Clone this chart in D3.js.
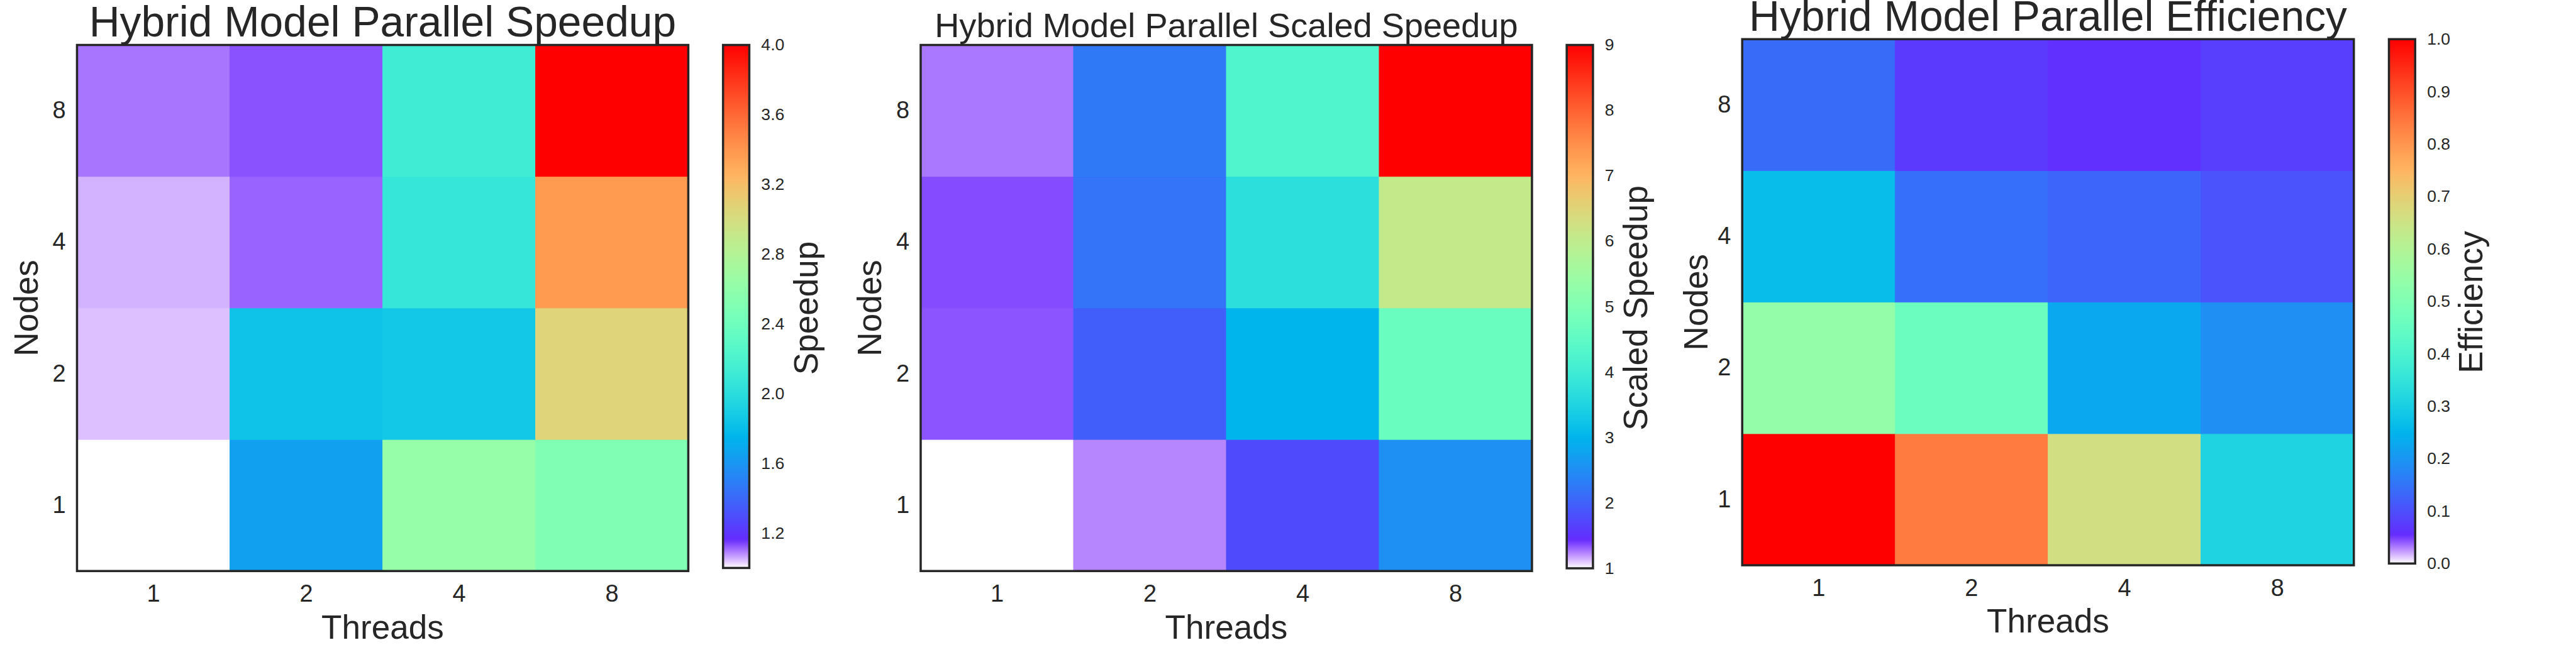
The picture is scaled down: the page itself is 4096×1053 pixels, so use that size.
<!DOCTYPE html>
<html>
<head>
<meta charset="utf-8">
<script src="https://cdn.jsdelivr.net/npm/d3@7"></script>
<style>
  html, body { margin: 0; padding: 0; background: #ffffff; overflow: hidden; }
  svg { display: block; }
</style>
</head>
<body>
<svg id="chart"></svg>
<script>
// ---------------- DATA ----------------
const threads = ["1", "2", "4", "8"];
const nodes = ["1", "2", "4", "8"];

// rows = nodes 1, 2, 4, 8 ; columns = threads 1, 2, 4, 8
const speedup = [
  [1.00, 1.65, 2.63, 2.50],
  [1.043, 1.83, 1.86, 3.06],
  [1.053, 1.115, 2.07, 3.38],
  [1.10, 1.13, 2.125, 4.00]
];
const scaledSpeedup = [
  [1.00, 1.23, 1.76, 2.53],
  [1.34, 1.96, 3.00, 4.66],
  [1.36, 2.20, 3.69, 6.07],
  [1.26, 2.26, 4.26, 9.00]
];
const efficiency = [
  [1.00, 0.84, 0.66, 0.31],
  [0.54, 0.46, 0.23, 0.19],
  [0.265, 0.144, 0.13, 0.105],
  [0.138, 0.072, 0.06, 0.078]
];

const speedupTicks = [1.2, 1.6, 2.0, 2.4, 2.8, 3.2, 3.6, 4.0];
const scaledSpeedupTicks = [1, 2, 3, 4, 5, 6, 7, 8, 9];
const efficiencyTicks = [0.0, 0.1, 0.2, 0.3, 0.4, 0.5, 0.6, 0.7, 0.8, 0.9, 1.0];

const titles = ["Hybrid Model Parallel Speedup", "Hybrid Model Parallel Scaled Speedup", "Hybrid Model Parallel Efficiency"];
const colorbarLabels = ["Speedup", "Scaled Speedup", "Efficiency"];
const xLabel = "Threads";
const yLabel = "Nodes";

// ---------------- LAYOUT (reference pixel units) ----------------
const W = 7560, H = 1943;
const INK = "#262626";
const FONT = "'Liberation Sans', Arial, Helvetica, sans-serif";

const panels = [
  { data: speedup, domain: [1, 4], ticks: speedupTicks, fmt: d3.format(".1f"),
    x0: 226, x1: 2020, y0: 132, y1: 1676, cbx0: 2122, cbx1: 2199, cby1: 1667,
    titleSize: 125, titleY: 107, nodesX: 111, cbLabelX: 2399 },
  { data: scaledSpeedup, domain: [1, 9], ticks: scaledSpeedupTicks, fmt: d3.format("d"),
    x0: 2702, x1: 4496, y0: 132, y1: 1676, cbx0: 4598, cbx1: 4675, cby1: 1668,
    titleSize: 100, titleY: 108, nodesX: 2586, cbLabelX: 4833 },
  { data: efficiency, domain: [0, 1], ticks: efficiencyTicks, fmt: d3.format(".1f"),
    x0: 5113, x1: 6908, y0: 115, y1: 1659, cbx0: 7011, cbx1: 7088, cby1: 1654,
    titleSize: 125, titleY: 90, nodesX: 5012, cbLabelX: 7285 }
];
panels.forEach((p, i) => { p.title = titles[i]; p.cbLabel = colorbarLabels[i]; });

// ---------------- COLORMAP: rainbow with alpha ramp at the low end, over white ----------------
function cmap(t) {
  t = Math.max(0, Math.min(1, t));
  const r = Math.min(1, Math.abs(2 * t - 0.5));
  const g = Math.min(1, Math.max(0, Math.sin(Math.PI * t)));
  const b = Math.min(1, Math.max(0, Math.cos(Math.PI * t / 2)));
  const a = Math.min(1, t / 0.055);
  const mix = c => Math.round(255 * (1 - a + a * c));
  return `rgb(${mix(r)},${mix(g)},${mix(b)})`;
}

// ---------------- DRAW ----------------
const svg = d3.select("#chart")
  .attr("width", 4096).attr("height", 1053)
  .attr("viewBox", `0 0 ${W} ${H}`)
  .attr("preserveAspectRatio", "none")
  .style("font-family", FONT);

svg.append("rect").attr("width", W).attr("height", H).attr("fill", "#ffffff");
const defs = svg.append("defs");

panels.forEach((p, pi) => {
  const g = svg.append("g");
  const x = d3.scaleBand().domain(threads).range([p.x0, p.x1]).padding(0);
  const y = d3.scaleBand().domain(nodes).range([p.y1, p.y0]).padding(0);
  const norm = d3.scaleLinear().domain(p.domain).range([0, 1]).clamp(true);

  const cells = [];
  nodes.forEach((n, i) => threads.forEach((t, j) => cells.push({ n, t, v: p.data[i][j] })));

  g.append("g").selectAll("rect").data(cells).join("rect")
    .attr("x", d => x(d.t))
    .attr("y", d => y(d.n))
    .attr("width", x.bandwidth())
    .attr("height", y.bandwidth())
    .attr("fill", d => cmap(norm(d.v)))
    .attr("stroke", d => cmap(norm(d.v)))
    .attr("stroke-width", 1.5);

  // frame
  g.append("rect")
    .attr("x", p.x0).attr("y", p.y0)
    .attr("width", p.x1 - p.x0).attr("height", p.y1 - p.y0)
    .attr("fill", "none").attr("stroke", INK).attr("stroke-width", 6.5);

  // x axis
  const xAxis = g.append("g").attr("transform", `translate(0,${p.y1})`)
    .call(d3.axisBottom(x).tickSize(0).tickPadding(40));
  xAxis.select(".domain").remove();
  xAxis.selectAll("text").attr("font-size", 70).attr("fill", INK).attr("font-family", FONT);

  // y axis
  const yAxis = g.append("g").attr("transform", `translate(${p.x0},0)`)
    .call(d3.axisLeft(y).tickSize(0).tickPadding(33));
  yAxis.select(".domain").remove();
  yAxis.selectAll("text").attr("font-size", 70).attr("fill", INK).attr("font-family", FONT);

  // title
  g.append("text")
    .attr("x", (p.x0 + p.x1) / 2).attr("y", p.titleY)
    .attr("text-anchor", "middle")
    .attr("font-size", p.titleSize).attr("fill", INK)
    .text(p.title);

  // axis labels
  g.append("text")
    .attr("x", (p.x0 + p.x1) / 2).attr("y", p.y1 + 198)
    .attr("text-anchor", "middle")
    .attr("font-size", 98).attr("fill", INK)
    .text(xLabel);
  g.append("text")
    .attr("transform", `translate(${p.nodesX},${(p.y0 + p.y1) / 2}) rotate(-90)`)
    .attr("text-anchor", "middle")
    .attr("font-size", 98).attr("fill", INK)
    .text(yLabel);

  // colorbar
  const gradId = "cbgrad" + pi;
  const grad = defs.append("linearGradient").attr("id", gradId)
    .attr("x1", 0).attr("y1", 1).attr("x2", 0).attr("y2", 0);
  const nStops = 300;
  grad.selectAll("stop").data(d3.range(nStops + 1)).join("stop")
    .attr("offset", i => i / nStops)
    .attr("stop-color", i => cmap(i / nStops));

  const cs = d3.scaleLinear().domain(p.domain).range([p.cby1, p.y0]);
  g.append("rect")
    .attr("x", p.cbx0).attr("y", p.y0)
    .attr("width", p.cbx1 - p.cbx0).attr("height", p.cby1 - p.y0)
    .attr("fill", `url(#${gradId})`)
    .attr("stroke", INK).attr("stroke-width", 6.5);

  const cAxis = g.append("g").attr("transform", `translate(${p.cbx1 + 3},0)`)
    .call(d3.axisRight(cs).tickValues(p.ticks).tickFormat(p.fmt).tickSize(0).tickPadding(32));
  cAxis.select(".domain").remove();
  cAxis.selectAll("text").attr("font-size", 49).attr("fill", INK).attr("font-family", FONT);

  g.append("text")
    .attr("transform", `translate(${p.cbLabelX},${(p.y0 + p.y1) / 2}) rotate(-90)`)
    .attr("text-anchor", "middle")
    .attr("font-size", 98).attr("fill", INK)
    .text(p.cbLabel);
});
</script>
</body>
</html>
